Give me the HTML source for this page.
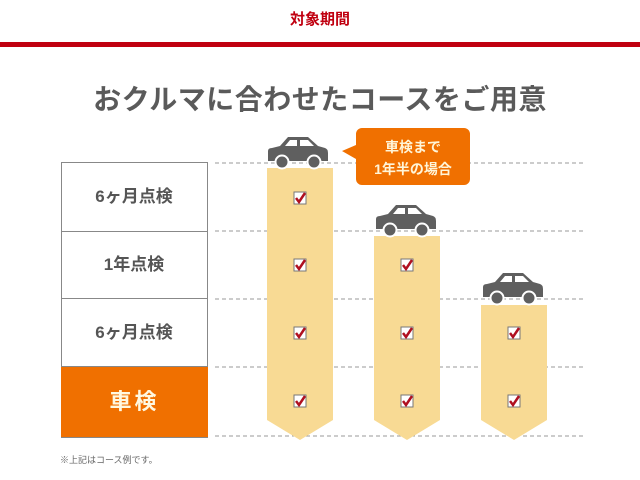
<!DOCTYPE html>
<html><head><meta charset="utf-8"><style>
body{margin:0;width:640px;height:480px;background:#fff;position:relative;overflow:hidden;font-family:"Liberation Sans","Noto Sans CJK JP",sans-serif;font-weight:bold}
.a{position:absolute}
.t{position:absolute;left:61px;width:146px;text-align:center;color:#555;font-size:17px;border-bottom:1px solid #888}
</style></head><body>
<div class="a" style="left:0;top:8px;width:640px;text-align:center;color:#c00010;font-size:15px">対象期間</div>
<div class="a" style="left:0;top:42px;width:640px;height:5px;background:#c00010"></div>
<div class="a" style="left:0;top:78px;width:640px;text-align:center;color:#5a5a5a;font-size:28px;letter-spacing:0.5px">おクルマに合わせたコースをご用意</div>
<div class="a" style="left:61px;top:162px;width:145px;height:274px;border:1px solid #888"></div>
<div class="t" style="top:163px;height:68px;line-height:68px">6ヶ月点検</div>
<div class="t" style="top:231px;height:67px;line-height:67px">1年点検</div>
<div class="t" style="top:299px;height:67px;line-height:67px">6ヶ月点検</div>
<div class="a" style="left:61px;top:367px;width:147px;height:70px;background:#f07000;color:#fff8e0;font-size:22px;text-align:center;line-height:70px;letter-spacing:3px">車検</div>
<svg class="a" style="left:0;top:0" width="640" height="480">
<g stroke="#999" stroke-dasharray="4,3" stroke-width="1">
<line x1="215" y1="163" x2="585" y2="163"/><line x1="215" y1="231" x2="585" y2="231"/>
<line x1="215" y1="299" x2="585" y2="299"/><line x1="215" y1="367" x2="585" y2="367"/>
<line x1="215" y1="436" x2="585" y2="436"/></g>
<g fill="#f8da94">
<polygon points="267,168 333,168 333,420 300,440 267,420"/>
<polygon points="374,236 440,236 440,420 407,440 374,420"/>
<polygon points="481,305 547,305 547,420 514,440 481,420"/>
</g>
<defs><g id="car" fill="#5f5f5f">
<path d="M2,14 Q2,11 6,11 L14,9 L22,0 L42,0 L52,9 L59,11 Q62,12 62,16 L62,24 L2,24 Z"/>
<path d="M19,9 L24,3 L31,3 L31,9 Z M34,3 L42,3 L48,9 L34,9 Z" fill="#fff"/>
<circle cx="16" cy="25" r="6.5" stroke="#fff" stroke-width="2"/><circle cx="48" cy="25" r="6.5" stroke="#fff" stroke-width="2"/>
</g>
<g id="ck"><rect x="-6" y="-6" width="12" height="12" fill="#fff" stroke="#777"/><path d="M-4,0 L-1,4 L5,-5" stroke="#b01020" stroke-width="2.5" fill="none"/></g></defs>
<use href="#car" x="266" y="137"/><use href="#car" x="374" y="205"/><use href="#car" x="481" y="273"/>
<path d="M362,128 h102 a6,6 0 0 1 6,6 v45 a6,6 0 0 1 -6,6 h-102 a6,6 0 0 1 -6,-6 v-20 l-14,-8 l14,-6 v-11 a6,6 0 0 1 6,-6z" fill="#f07000"/>
<text x="413" y="152" font-size="14" fill="#fff5d8" text-anchor="middle" font-weight="bold">車検まで</text>
<text x="413" y="174" font-size="14" fill="#fff5d8" text-anchor="middle" font-weight="bold">1年半の場合</text>
<use href="#ck" x="300" y="198"/><use href="#ck" x="300" y="265"/><use href="#ck" x="300" y="333"/><use href="#ck" x="300" y="401"/>
<use href="#ck" x="407" y="265"/><use href="#ck" x="407" y="333"/><use href="#ck" x="407" y="401"/>
<use href="#ck" x="514" y="333"/><use href="#ck" x="514" y="401"/>
</svg>
<div class="a" style="left:60px;top:453px;font-size:9px;color:#666;font-weight:normal">※上記はコース例です。</div>
</body></html>
